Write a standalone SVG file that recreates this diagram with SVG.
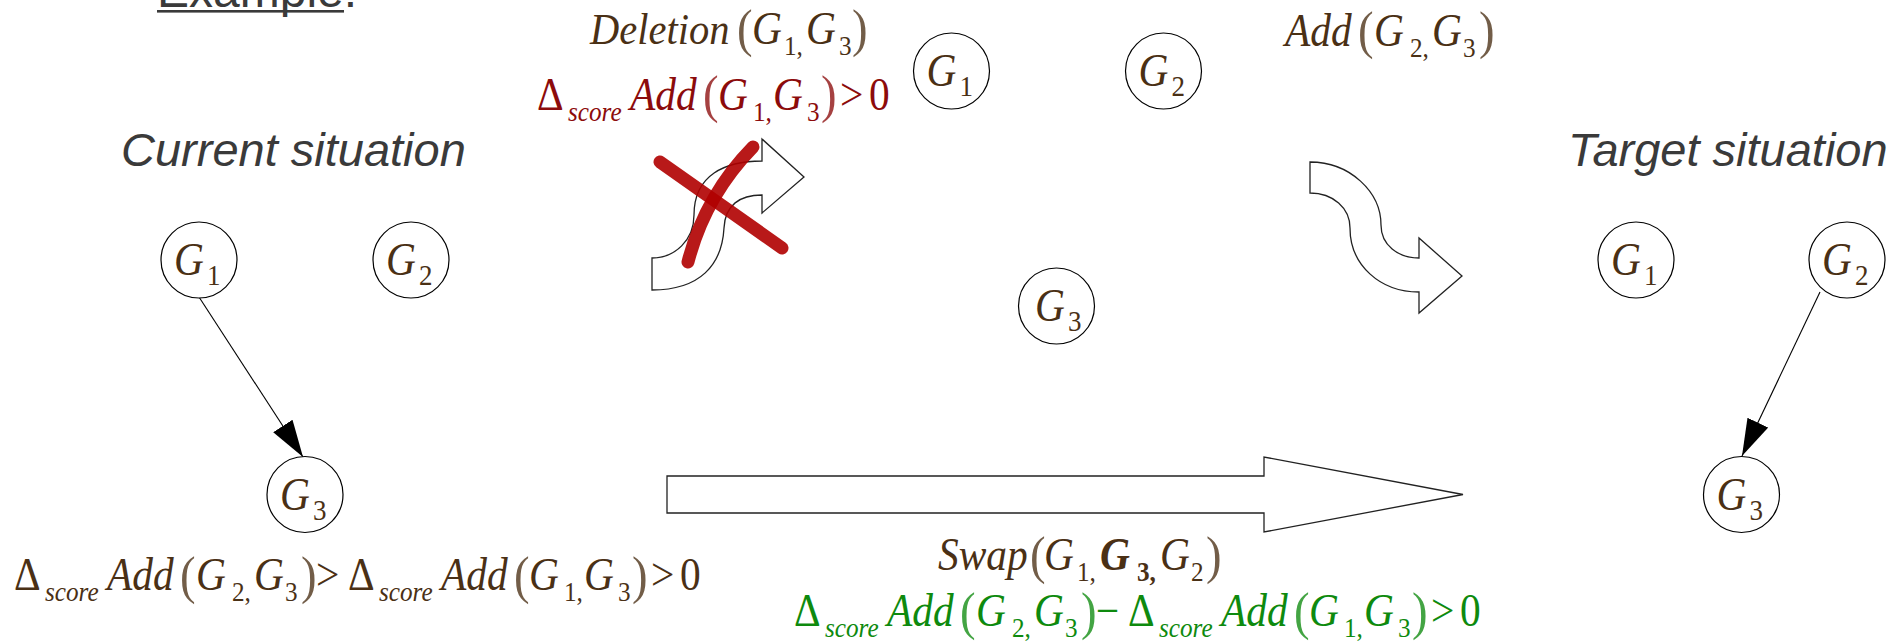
<svg xmlns="http://www.w3.org/2000/svg" width="1895" height="642" viewBox="0 0 1895 642">
<defs>
<style>
.bg{fill:#fff}
.node circle{fill:#fff;stroke:#000;stroke-width:1.2}
.nl{font-family:"Liberation Serif","Times New Roman",serif;fill:#4a3015;font-size:46px;font-style:italic}
.nl .s{font-size:30px;font-style:normal}
.f{font-family:"Liberation Serif","Times New Roman",serif;font-size:46px;fill:#4a3015}
.f .i{font-style:italic}
.f .s{font-size:28px}
.f .p{font-size:52px;fill-opacity:0.78}
.f .b{font-weight:bold}
.red{fill:#8c0b0b}
.grn{fill:#0e8a0e}
.head{font-family:"Liberation Sans",Arial,sans-serif;font-size:47px;font-style:italic;fill:#3a3a3a}
.edge{stroke:#000;stroke-width:1.1;fill:none}
.block{fill:#fff;stroke:#222;stroke-width:1.3;stroke-linejoin:miter}
.cross{fill:none;stroke:#b00000;stroke-width:13;stroke-linecap:round;opacity:0.9}
</style>
<marker id="ah" markerUnits="userSpaceOnUse" markerWidth="40" markerHeight="24" refX="37" refY="11.5" orient="auto">
<path d="M0,0 L37,11.5 L0,23 Z" fill="#000"/>
</marker>
</defs>
<rect class="bg" x="0" y="0" width="1895" height="642"/>

<text x="157" y="7" font-family="Liberation Sans, Arial, sans-serif" font-size="48" fill="#3a3a3a">Example:</text>
<rect x="157" y="10" width="187" height="2.6" fill="#3a3a3a"/>
<text class="head" x="121" y="166">Current situation</text>
<text class="head" x="1568" y="166">Target situation</text>

<g id="transitions">
<path class="block" d="M652,258 C675,258 694,240 694,215 C694,175 725,161 762,161 L762,139 L804,177 L762,213 L762,195 C740,195 725,205 724,228 C722,265 700,290 652,290 Z"/>
<path class="block" d="M1310,162 C1350,162 1381,192 1381,225 C1381,245 1398,258 1419,258 L1419,238 L1462,276 L1419,313 L1419,292 C1380,292 1350,265 1350,228 C1350,208 1333,193 1310,193 Z"/>
<path class="block" d="M667,476 L1264,476 L1264,457 L1463,494.5 L1264,532 L1264,513 L667,513 Z"/>
</g>

<g id="cross-mark">
<path class="cross" d="M660,162 L782,248"/>
<path class="cross" d="M753,147 Q705,196 688,262"/>
</g>

<g id="connectors">
<line class="edge" x1="199" y1="297" x2="303" y2="457" marker-end="url(#ah)"/>
<line class="edge" x1="1820" y1="292" x2="1742" y2="456" marker-end="url(#ah)"/>
</g>

<g id="cur-G1" class="node"><circle cx="199" cy="260" r="38"/><text class="nl" transform="translate(199,260) scale(0.9,1)"><tspan x="-27.8" y="15">G</tspan><tspan class="s" x="9" y="25">1</tspan></text></g>
<g id="cur-G2" class="node"><circle cx="411" cy="260" r="38"/><text class="nl" transform="translate(411,260) scale(0.9,1)"><tspan x="-27.8" y="15">G</tspan><tspan class="s" x="9" y="25">2</tspan></text></g>
<g id="cur-G3" class="node"><circle cx="305" cy="494.5" r="38"/><text class="nl" transform="translate(305,494.5) scale(0.9,1)"><tspan x="-27.8" y="15">G</tspan><tspan class="s" x="9" y="25">3</tspan></text></g>

<g id="mid-G1" class="node"><circle cx="951.5" cy="71" r="38"/><text class="nl" transform="translate(951.5,71) scale(0.9,1)"><tspan x="-27.8" y="15">G</tspan><tspan class="s" x="9" y="25">1</tspan></text></g>
<g id="mid-G2" class="node"><circle cx="1163.5" cy="71" r="38"/><text class="nl" transform="translate(1163.5,71) scale(0.9,1)"><tspan x="-27.8" y="15">G</tspan><tspan class="s" x="9" y="25">2</tspan></text></g>
<g id="mid-G3" class="node"><circle cx="1056.5" cy="306" r="38"/><text class="nl" transform="translate(1060,306) scale(0.9,1)"><tspan x="-27.8" y="15">G</tspan><tspan class="s" x="9" y="25">3</tspan></text></g>

<g id="tgt-G1" class="node"><circle cx="1636" cy="260" r="38"/><text class="nl" transform="translate(1636,260) scale(0.9,1)"><tspan x="-27.8" y="15">G</tspan><tspan class="s" x="9" y="25">1</tspan></text></g>
<g id="tgt-G2" class="node"><circle cx="1847" cy="260" r="38"/><text class="nl" transform="translate(1847,260) scale(0.9,1)"><tspan x="-27.8" y="15">G</tspan><tspan class="s" x="9" y="25">2</tspan></text></g>
<g id="tgt-G3" class="node"><circle cx="1741.5" cy="494.5" r="38"/><text class="nl" transform="translate(1741.5,494.5) scale(0.9,1)"><tspan x="-27.8" y="15">G</tspan><tspan class="s" x="9" y="25">3</tspan></text></g>

<g id="labels">
<g transform="translate(0,44) scale(0.9,1)">
<text class="f"><tspan class="i" x="655.6" y="0" font-size="45">Deletion</tspan><tspan class="p" x="818.9" y="2">(</tspan><tspan class="i" x="835.6" y="0">G</tspan><tspan class="s" x="871.1" y="11">1,</tspan><tspan class="i" x="895.6" y="0">G</tspan><tspan class="s" x="932.2" y="11">3</tspan><tspan class="p" x="946.7" y="2">)</tspan></text>
</g>

<g transform="translate(189,110) scale(0.9,1)">
<text class="f red"><tspan x="386.7" y="0">Δ</tspan><tspan class="i s" x="421.1" y="11">score</tspan><tspan class="i" x="490" y="0">Add</tspan><tspan class="p" x="571.1" y="2">(</tspan><tspan class="i" x="587.8" y="0">G</tspan><tspan class="s" x="626.7" y="11">1,</tspan><tspan class="i" x="648.9" y="0">G</tspan><tspan class="s" x="686.7" y="11">3</tspan><tspan class="p" x="702.2" y="2">)</tspan><tspan x="723.3" y="0">&gt;</tspan><tspan x="755.6" y="0">0</tspan></text>
</g>

<g transform="translate(1178,46) scale(0.9,1)">
<text class="f"><tspan class="i" x="118.9" y="0">Add</tspan><tspan class="p" x="200" y="2">(</tspan><tspan class="i" x="217.8" y="0">G</tspan><tspan class="s" x="257.8" y="11">2,</tspan><tspan class="i" x="282.2" y="0">G</tspan><tspan class="s" x="316.7" y="11">3</tspan><tspan class="p" x="334.4" y="2">)</tspan></text>
</g>

<g transform="translate(0,590) scale(0.9,1)">
<text class="f"><tspan x="15.6" y="0">Δ</tspan><tspan class="i s" x="50" y="11">score</tspan><tspan class="i" x="118.9" y="0">Add</tspan><tspan class="p" x="200" y="3">(</tspan><tspan class="i" x="217.8" y="0">G</tspan><tspan class="s" x="257.8" y="11">2,</tspan><tspan class="i" x="282.2" y="0">G</tspan><tspan class="s" x="316.7" y="11">3</tspan><tspan class="p" x="334.4" y="3">)</tspan><tspan x="351.1" y="0">&gt;</tspan><tspan x="386.7" y="0">Δ</tspan><tspan class="i s" x="421.1" y="11">score</tspan><tspan class="i" x="490" y="0">Add</tspan><tspan class="p" x="571.1" y="3">(</tspan><tspan class="i" x="587.8" y="0">G</tspan><tspan class="s" x="626.7" y="11">1,</tspan><tspan class="i" x="648.9" y="0">G</tspan><tspan class="s" x="686.7" y="11">3</tspan><tspan class="p" x="702.2" y="3">)</tspan><tspan x="723.3" y="0">&gt;</tspan><tspan x="755.6" y="0">0</tspan></text>
</g>

<g transform="translate(0,570) scale(0.9,1)">
<text class="f"><tspan class="i" x="1042.2" y="0">Swap</tspan><tspan class="p" x="1144.4" y="3">(</tspan><tspan class="i" x="1160" y="0">G</tspan><tspan class="s" x="1196.7" y="11">1,</tspan><tspan class="i b" x="1222.2" y="0">G</tspan><tspan class="s b" x="1263.3" y="11">3,</tspan><tspan class="i" x="1288.9" y="0">G</tspan><tspan class="s" x="1323.3" y="11">2</tspan><tspan class="p" x="1340" y="3">)</tspan></text>
</g>

<g transform="translate(780,626) scale(0.9,1)">
<text class="f grn"><tspan x="15.6" y="0">Δ</tspan><tspan class="i s" x="50" y="11">score</tspan><tspan class="i" x="118.9" y="0">Add</tspan><tspan class="p" x="200" y="3">(</tspan><tspan class="i" x="217.8" y="0">G</tspan><tspan class="s" x="257.8" y="11">2,</tspan><tspan class="i" x="282.2" y="0">G</tspan><tspan class="s" x="316.7" y="11">3</tspan><tspan class="p" x="334.4" y="3">)</tspan><tspan x="351.1" y="0">−</tspan><tspan x="386.7" y="0">Δ</tspan><tspan class="i s" x="421.1" y="11">score</tspan><tspan class="i" x="490" y="0">Add</tspan><tspan class="p" x="571.1" y="3">(</tspan><tspan class="i" x="587.8" y="0">G</tspan><tspan class="s" x="626.7" y="11">1,</tspan><tspan class="i" x="648.9" y="0">G</tspan><tspan class="s" x="686.7" y="11">3</tspan><tspan class="p" x="702.2" y="3">)</tspan><tspan x="723.3" y="0">&gt;</tspan><tspan x="755.6" y="0">0</tspan></text>
</g>
</g>
</svg>
